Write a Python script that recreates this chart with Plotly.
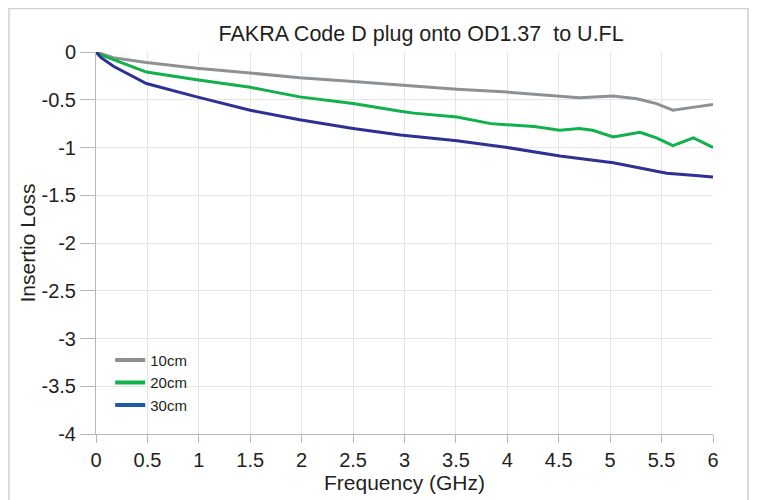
import plotly.graph_objects as go

freq_10 = [0, 0.05, 0.17, 0.49, 0.98, 1.5, 1.98, 2.5, 2.96, 3.09, 3.51, 4.0, 4.51, 4.7, 5.03, 5.26, 5.45, 5.61, 5.8, 6.0]
loss_10 = [0, -0.02, -0.06, -0.11, -0.17, -0.22, -0.27, -0.31, -0.35, -0.36, -0.39, -0.42, -0.46, -0.48, -0.46, -0.49, -0.54, -0.61, -0.58, -0.55]

freq_20 = [0, 0.05, 0.17, 0.49, 0.98, 1.5, 1.98, 2.5, 2.96, 3.09, 3.51, 3.84, 4.26, 4.51, 4.7, 4.83, 5.03, 5.29, 5.45, 5.61, 5.81, 6.0]
loss_20 = [0, -0.03, -0.08, -0.21, -0.29, -0.37, -0.47, -0.54, -0.62, -0.64, -0.68, -0.75, -0.78, -0.82, -0.8, -0.82, -0.89, -0.84, -0.9, -0.98, -0.9, -1.0]

freq_30 = [0, 0.05, 0.17, 0.49, 0.98, 1.5, 1.98, 2.5, 2.96, 3.51, 4.0, 4.51, 5.03, 5.55, 5.8, 6.0]
loss_30 = [0, -0.06, -0.15, -0.33, -0.47, -0.61, -0.71, -0.8, -0.87, -0.93, -1.0, -1.09, -1.16, -1.27, -1.29, -1.31]

names = ["10cm", "20cm", "30cm"]
colors = ["#8d9196", "#10b04b", "#2e3192"]
legend_colors = ["#8d9196", "#10b04b", "#1f5aa8"]

x_ticks = [0, 0.5, 1, 1.5, 2, 2.5, 3, 3.5, 4, 4.5, 5, 5.5, 6]
y_ticks = [0, -0.5, -1, -1.5, -2, -2.5, -3, -3.5, -4]

fig = go.Figure()
series = [(freq_10, loss_10), (freq_20, loss_20), (freq_30, loss_30)]
for (fx, ly), n, c in zip(series, names, colors):
    fig.add_trace(go.Scatter(x=fx, y=ly, mode="lines", name=n, showlegend=False,
                             line=dict(color=c, width=3)))
for n, lc in zip(names, legend_colors):
    fig.add_trace(go.Scatter(x=[None], y=[None], mode="lines", name=n,
                             line=dict(color=lc, width=4)))

fig.update_layout(
    width=749, height=492,
    margin=dict(l=88, r=44, t=44, b=66, autoexpand=False),
    paper_bgcolor="white", plot_bgcolor="white",
    font=dict(family="Liberation Sans, Arial, sans-serif", color="#231f20", size=20),
    title=dict(text="FAKRA Code D plug onto OD1.37&nbsp; to U.FL", xref="paper", x=0.527, xanchor="center",
               y=0.949, yanchor="middle", font=dict(size=21.5)),
    xaxis=dict(range=[0, 6], tickvals=x_ticks, ticktext=[str(t) for t in x_ticks],
               showgrid=True, gridcolor="#e6e6e6", gridwidth=1,
               showline=True, linecolor="#b8b8b8", linewidth=1,
               ticks="outside", ticklen=8, tickcolor="#b8b8b8",
               zeroline=False, tickfont=dict(size=20), automargin=False,
               title=dict(text="Frequency (GHz)", standoff=0, font=dict(size=21))),
    yaxis=dict(range=[-4, 0], tickvals=y_ticks, ticktext=[f"{t:g}" for t in y_ticks],
               showgrid=True, gridcolor="#e6e6e6", gridwidth=1,
               showline=True, linecolor="#b8b8b8", linewidth=1,
               ticks="outside", ticklen=15, tickcolor="#b8b8b8",
               zeroline=False, tickfont=dict(size=20), automargin=False,
               title=dict(text="Insertio Loss", standoff=0, font=dict(size=21))),
    legend=dict(x=0.023, y=0.236, xanchor="left", yanchor="top", bgcolor="rgba(0,0,0,0)",
                font=dict(size=15), tracegroupgap=0),
    shapes=[
        dict(type="rect", xref="paper", yref="paper", x0=-0.141, x1=1.0567, y0=-0.25, y1=1.114,
             line=dict(color="#d0d0d0", width=1.5), layer="below"),
        dict(type="line", xref="paper", yref="paper", x0=1.0632, x1=1.0632, y0=-0.25, y1=1.114,
             line=dict(color="#d8d8d8", width=1.5)),
    ],
)

fig.write_html("out.html")
